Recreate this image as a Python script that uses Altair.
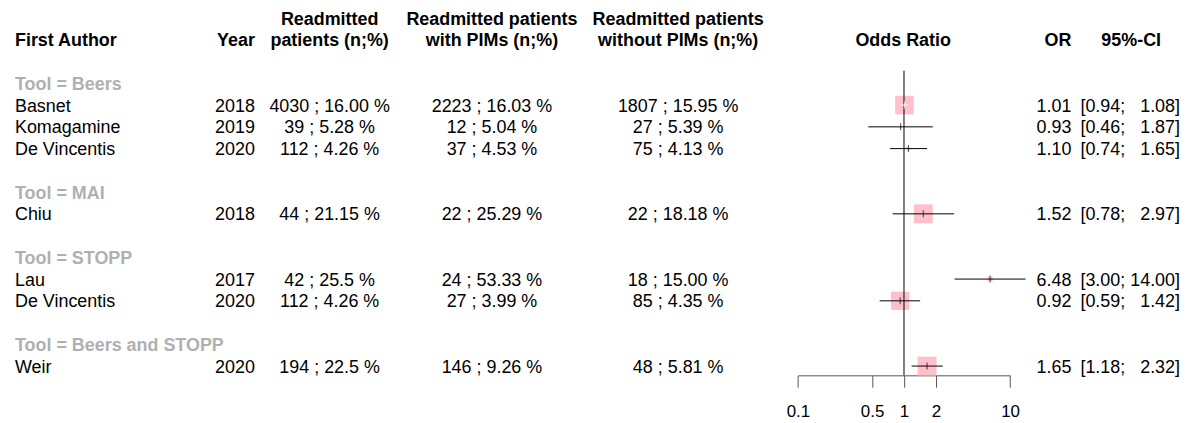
import altair as alt
import pandas as pd
import numpy as np

# ---------------- data ----------------
tool_order = ["Beers", "MAI", "STOPP", "Beers and STOPP"]
authors = ["Basnet", "Komagamine", "De Vincentis", "Chiu", "Lau", "De Vincentis", "Weir"]
tools = ["Beers", "Beers", "Beers", "MAI", "STOPP", "STOPP", "Beers and STOPP"]
years = ["2018", "2019", "2020", "2018", "2017", "2020", "2020"]
readmitted = ["4030 ; 16.00 %", "39 ; 5.28 %", "112 ; 4.26 %", "44 ; 21.15 %",
              "42 ; 25.5 %", "112 ; 4.26 %", "194 ; 22.5 %"]
with_pims = ["2223 ; 16.03 %", "12 ; 5.04 %", "37 ; 4.53 %", "22 ; 25.29 %",
             "24 ; 53.33 %", "27 ; 3.99 %", "146 ; 9.26 %"]
without_pims = ["1807 ; 15.95 %", "27 ; 5.39 %", "75 ; 4.13 %", "22 ; 18.18 %",
                "18 ; 15.00 %", "85 ; 4.35 %", "48 ; 5.81 %"]
odds_ratio = [1.01, 0.93, 1.10, 1.52, 6.48, 0.92, 1.65]
ci_low = [0.94, 0.46, 0.74, 0.78, 3.00, 0.59, 1.18]
ci_high = [1.08, 1.87, 1.65, 2.97, 14.00, 1.42, 2.32]
weight = [96, 1, 3, 100, 7, 93, 100]   # within-subgroup weight (%)
axis_ticks = [0.1, 0.5, 1, 2, 10]

# ---------------- layout helpers ----------------
FONT = "Liberation Sans"
FS = 18
PINK = "#FFC0CB"
GRAY = "#B0B0B0"

# build row table
study_rows, group_rows = [], []
k = 0
for t in tool_order:
    group_rows.append({"k": k, "label": f"Tool = {t}"})
    k += 1
    for i, tt in enumerate(tools):
        if tt != t:
            continue
        hi = ci_high[i]
        pad = "\u2007" if hi < 10 else ""
        side = 1.9 * np.sqrt(weight[i])
        ci_px = 106.5 * (np.log10(ci_high[i]) - np.log10(ci_low[i]))
        study_rows.append({
            "k": k, "author": authors[i], "year": years[i],
            "c3": readmitted[i], "c4": with_pims[i], "c5": without_pims[i],
            "or_txt": f"{odds_ratio[i]:.2f}",
            "ci_txt": f"[{ci_low[i]:.2f}; {pad}{hi:.2f}]",
            "or": odds_ratio[i], "lo": ci_low[i], "hi": hi, "w": weight[i],
            "linecol": "white" if ci_px < side else "black",
        })
        k += 1
    k += 1

study = pd.DataFrame(study_rows)
groups = pd.DataFrame(group_rows)

YS = alt.Scale(domain=[0, 13], range=[74.8, 358.7], nice=False, zero=False)
XS = alt.Scale(type="log", domain=[0.1, 10], range=[793.3, 1006.3], nice=False)
Y = alt.Y("k:Q", scale=YS, axis=None)


def col_text(df, field, xpx, align, bold=False, color="black"):
    return alt.Chart(df).mark_text(
        align=align, baseline="middle", font=FONT, fontSize=FS,
        fontWeight="bold" if bold else "normal", color=color, dy=1.5
    ).encode(x=alt.value(xpx), y=Y, text=f"{field}:N")


def header(lines, xpx, align):
    n = len(lines)
    df = pd.DataFrame({"k": [-2 - (n - 1 - j) for j in range(n)], "t": lines})
    return col_text(df, "t", xpx, align, bold=True)


headers = [
    header(["First Author"], 7, "left"),
    header(["Year"], 248, "right"),
    header(["Readmitted", "patients (n;%)"], 323, "center"),
    header(["Readmitted patients", "with PIMs (n;%)"], 486, "center"),
    header(["Readmitted patients", "without PIMs (n;%)"], 673, "center"),
    header(["Odds Ratio"], 899, "center"),
    header(["OR"], 1068, "right"),
    header(["95%-CI"], 1128, "center"),
]

body = [
    col_text(groups, "label", 7, "left", bold=True, color=GRAY),
    col_text(study, "author", 7, "left"),
    col_text(study, "year", 248, "right"),
    col_text(study, "c3", 323, "center"),
    col_text(study, "c4", 486, "center"),
    col_text(study, "c5", 673, "center"),
    col_text(study, "or_txt", 1068, "right"),
    col_text(study, "ci_txt", 1077, "left"),
]

x_axis = alt.Axis(values=axis_ticks, format="~g", tickSize=12, labelPadding=16,
                  labelFont=FONT, labelFontSize=17, labelColor="black",
                  domainColor="#555555", tickColor="#555555", grid=False,
                  title=None, labelFlush=False, labelOverlap=False,
                  orient="bottom")

squares = alt.Chart(study).mark_square(color=PINK, opacity=1, filled=True).encode(
    x=alt.X("or:Q", scale=XS, axis=x_axis),
    y=Y,
    size=alt.Size("w:Q", scale=alt.Scale(domain=[0, 100], range=[0, 361]), legend=None),
)

ref = alt.Chart(pd.DataFrame({"x": [1.0], "y1": [-0.586], "y2": [13.42]})).mark_rule(
    color="black", strokeWidth=1
).encode(x=alt.X("x:Q", scale=XS), y=alt.Y("y1:Q", scale=YS, axis=None), y2="y2:Q")

ci = alt.Chart(study).mark_rule(strokeWidth=1).encode(
    x=alt.X("lo:Q", scale=XS), x2="hi:Q", y=Y,
    color=alt.Color("linecol:N", scale=None),
)

ticks = alt.Chart(study).mark_tick(orient="vertical", thickness=1, size=7).encode(
    x=alt.X("or:Q", scale=XS), y=Y,
    color=alt.Color("linecol:N", scale=None),
)

chart = alt.layer(squares, ref, ci, ticks, *headers, *body).properties(
    width=1180, height=368,
    padding={"left": 0, "top": 0, "right": 0, "bottom": 45},
    autosize=alt.AutoSizeParams(type="none"),
).configure_view(stroke=None)

chart.save("out.html", embed_options={"renderer": "svg", "actions": False})
